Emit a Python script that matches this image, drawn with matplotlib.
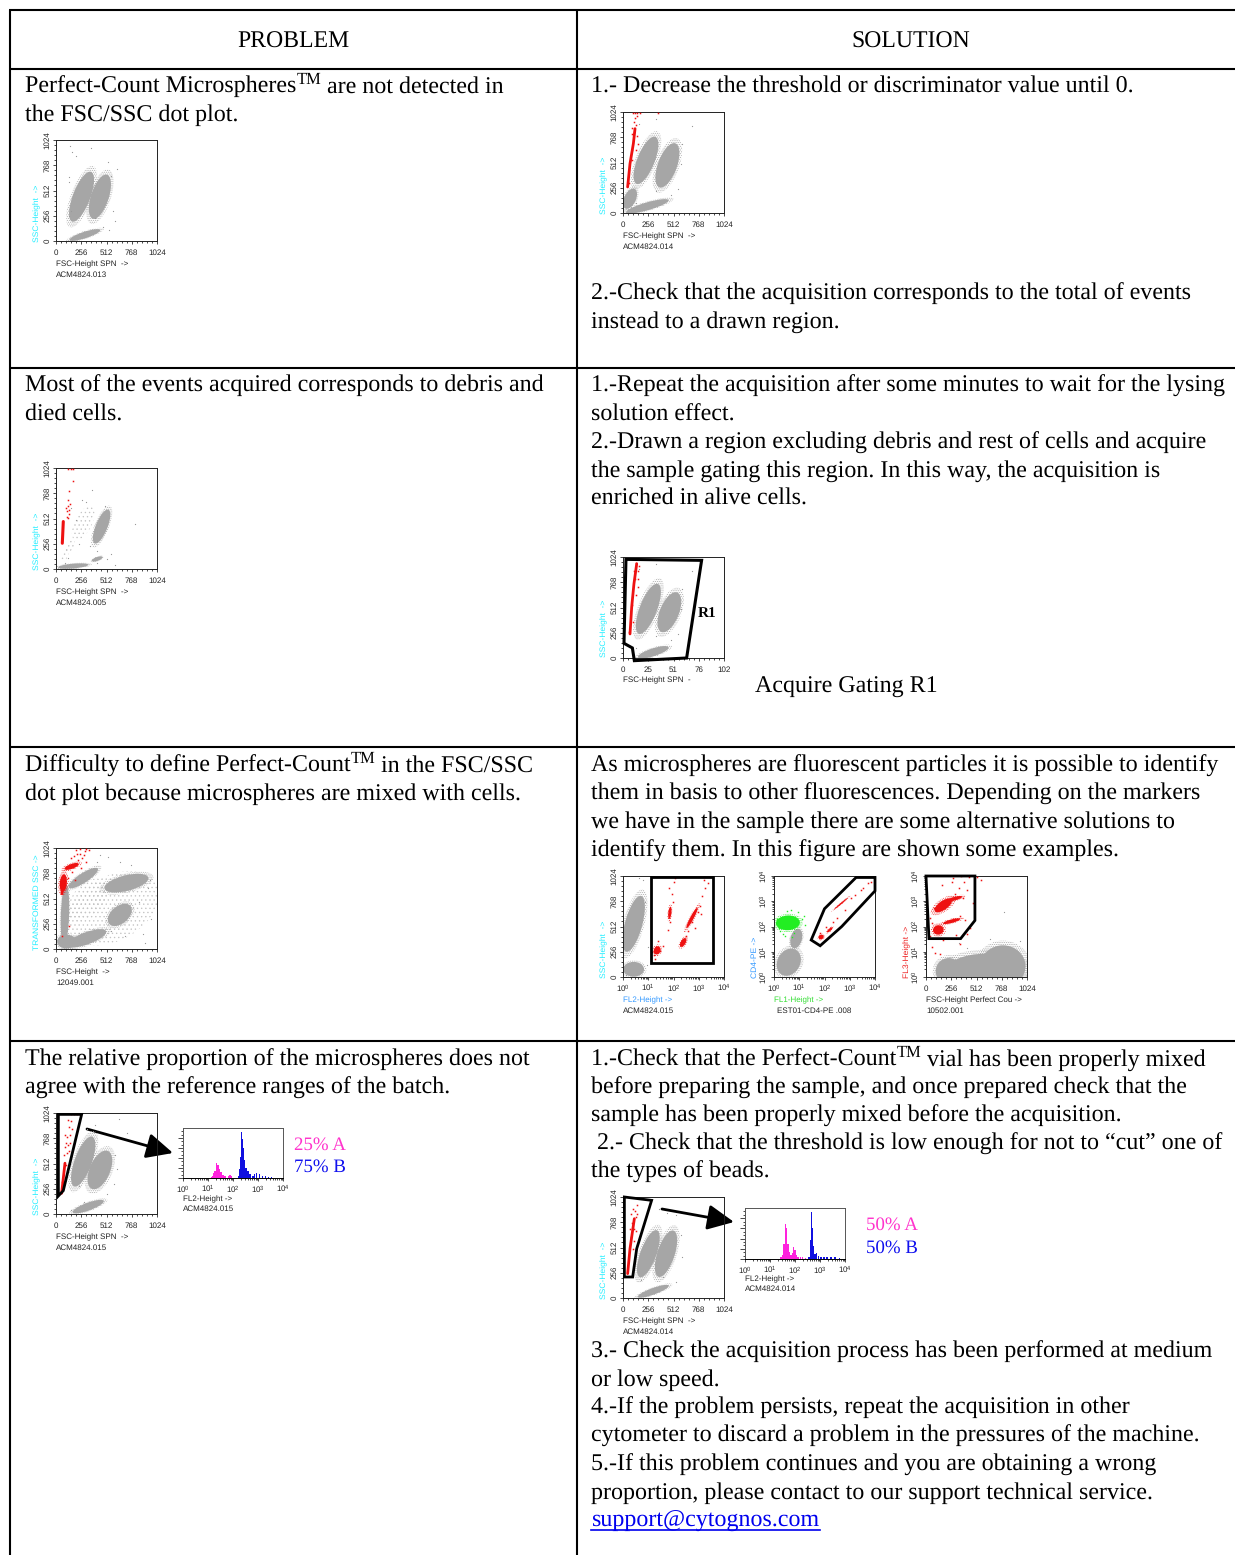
import matplotlib
matplotlib.use('Agg')
import matplotlib.pyplot as plt
from matplotlib.patches import Ellipse, Polygon
import numpy as np

W, H = 1235, 1555
plt.rcParams['font.family'] = 'Liberation Serif'
plt.rcParams['text.hinting'] = 'no_hinting'
plt.rcParams['mathtext.fontset'] = 'custom'
plt.rcParams['mathtext.rm'] = 'Liberation Sans'
plt.rcParams['hatch.linewidth'] = 0.45
SERIF = 17.3
SANS = 5.8
GRAY = '#a6a6a6'
LOOSE = '#c4c4c4'
RED = '#ee1111'
GREEN = '#22ee22'

# table grid, in page pixels
col_x = [10, 577]
row_y = [10, 69, 368, 747, 1041]

problem_lines = [
    (25, 93, 'Perfect-Count Microspheres'), (25, 121, 'the FSC/SSC dot plot.'),
    (25, 392, 'Most of the events acquired corresponds to debris and'), (25, 421, 'died cells.'),
    (25, 772, 'Difficulty to define Perfect-Count'), (25, 800, 'dot plot because microspheres are mixed with cells.'),
    (25, 1066, 'The relative proportion of the microspheres does not'), (25, 1094, 'agree with the reference ranges of the batch.'),
]
solution_lines = [
    (591, 93, '1.- Decrease the threshold or discriminator value until 0.'),
    (591, 300, '2.-Check that the acquisition corresponds to the total of events'),
    (591, 328, 'instead to a drawn region.'),
    (591, 392, '1.-Repeat the acquisition after some minutes to wait for the lysing'),
    (591, 421, 'solution effect.'),
    (591, 449, '2.-Drawn a region excluding debris and rest of cells and acquire'),
    (591, 477, 'the sample gating this region. In this way, the acquisition is'),
    (591, 505, 'enriched in alive cells.'),
    (755, 693, 'Acquire Gating R1'),
    (591, 772, 'As microspheres are fluorescent particles it is possible to identify'),
    (591, 800, 'them in basis to other fluorescences. Depending on the markers'),
    (591, 828, 'we have in the sample there are some alternative solutions to'),
    (591, 857, 'identify them. In this figure are shown some examples.'),
    (591, 1066, '1.-Check that the Perfect-Count'),
    (591, 1094, 'before preparing the sample, and once prepared check that the'),
    (591, 1122, 'sample has been properly mixed before the acquisition.'),
    (597, 1150, '2.- Check that the threshold is low enough for not to \u201ccut\u201d one of'),
    (591, 1178, 'the types of beads.'),
    (591, 1358, '3.- Check the acquisition process has been performed at medium'),
    (591, 1386, 'or low speed.'),
    (591, 1414, '4.-If the problem persists, repeat the acquisition in other'),
    (591, 1442, 'cytometer to discard a problem in the pressures of the machine.'),
    (591, 1471, '5.-If this problem continues and you are obtaining a wrong'),
    (591, 1499, 'proportion, please contact to our support technical service.'),
]
# text that carries on after a TM mark: (tm x, baseline, following x, following text)
tm_marks = [
    (297, 93, 327, 'are not detected in'),
    (351, 772, 381, 'in the FSC/SSC'),
    (897, 1066, 927, 'vial has been properly mixed'),
]

# clouds: channel centre x, centre y, length, width, angle
clouds_a = [(259, 449, 613, 200, 69), (445, 449, 534, 205, 72), (293, 61, 370, 75, 18)]
clouds_b = [(462, 430, 420, 135, 68), (175, 30, 350, 55, 5), (418, 102, 130, 45, 20)]
clouds_c = [(91, 346, 700, 95, 88), (276, 719, 400, 110, 33), (714, 668, 520, 180, 14),
            (647, 346, 320, 200, 40), (310, 108, 480, 140, 20), (108, 75, 220, 160, 0)]
clouds_sol1 = [(233, 534, 584, 200, 68), (450, 483, 540, 220, 70), (247, 68, 510, 90, 16), (71, 145, 250, 135, 65)]
clouds_r1 = [(257, 498, 615, 200, 69), (470, 464, 490, 220, 68), (307, 58, 370, 90, 18)]
clouds_gate1 = [(108, 539, 665, 200, 75), (108, 78, 240, 170, 0)]
clouds_cd4 = [(226, 390, 230, 130, 75), (150, 150, 330, 260, 60)]
clouds_fl3 = [(600, 60, 900, 400, 0), (780, 110, 520, 480, 0), (230, 60, 300, 300, 0)]
clouds_d = [(276, 532, 610, 200, 70), (445, 447, 475, 235, 67), (327, 75, 380, 90, 20)]
clouds_e = [(257, 449, 575, 185, 70), (436, 449, 560, 200, 72), (307, 68, 380, 75, 20)]

# clouds that are only loose events, no dense core
sparse_b = [(276, 464, 380, 170, 63), (141, 227, 150, 70, 60), (91, 142, 150, 60, 70)]
sparse_c = [(580, 414, 1000, 650, 30), (320, 500, 500, 300, 50)]

# loose events around the clouds
dots_a = [(135, 600), (145, 960), (165, 900), (205, 860), (350, 940), (135, 650), (560, 660), (620, 730),
          (530, 800), (580, 300), (600, 200), (130, 250), (150, 300), (480, 140), (540, 110), (400, 230)]
dots_b = [(150, 620), (200, 500), (120, 110), (560, 150), (340, 230), (420, 180), (300, 680), (500, 640),
          (230, 250), (520, 100), (420, 60), (600, 40), (90, 60), (260, 700), (370, 800), (800, 460)]
dots_c = [(530, 930), (650, 880), (760, 850), (700, 130), (950, 700), (930, 620), (840, 480), (560, 180),
          (880, 150), (960, 300), (420, 880), (450, 950), (900, 60)]
dots_sol = [(160, 900), (330, 950), (600, 700), (590, 500), (560, 240), (130, 100), (490, 180), (330, 220), (700, 880)]
dots_d = [(310, 860), (400, 900), (640, 960), (720, 820), (600, 600), (620, 460), (230, 280), (520, 200),
          (280, 120), (590, 300), (150, 40)]
dots_e = [(370, 900), (450, 860), (540, 840), (590, 640), (600, 420), (180, 180), (540, 160), (410, 210)]
dots_gate1 = [(220, 760), (250, 300), (240, 120), (200, 980), (160, 1000), (30, 20)]
dots_fl3 = [(790, 660), (650, 390), (420, 290), (330, 340), (950, 360)]

# gated events: streak polylines and the loose red ones
streak_sol1 = [(47, 264), (71, 500), (105, 703), (122, 855)]
red_sol1 = [(60, 300), (95, 540), (90, 640), (130, 640), (150, 700), (115, 820), (90, 800), (140, 780), (110, 920), (130, 890),
            (95, 860), (125, 960), (145, 980), (100, 1014), (120, 1014), (145, 1014), (170, 1014), (350, 1014)]
streak_b = [(64, 261), (74, 481)]
red_b = [(108, 583), (118, 640), (122, 700), (130, 600), (135, 560), (135, 786), (125, 520), (115, 530), (100, 620),
         (125, 1017), (150, 1017), (170, 1017), (175, 888), (140, 660)]
streak_c = [(60, 560), (70, 680)]
red_c = [(210, 960), (260, 920), (290, 990), (330, 1000), (180, 940), (300, 880), (240, 1010), (160, 780), (120, 720),
         (60, 130), (130, 230), (190, 700), (250, 820), (280, 950), (220, 900), (150, 920), (300, 1016), (240, 960), (200, 1000)]
streak_r1 = [(71, 244), (88, 515), (111, 752), (139, 956)]
red_r1 = [(60, 260), (100, 360), (135, 640), (150, 720), (120, 800), (150, 880), (160, 930), (130, 960), (95, 540), (150, 800), (110, 880)]
streak_d = [(57, 210), (91, 515)]
red_d = [(60, 320), (100, 500), (130, 640), (100, 720), (130, 880), (150, 940), (140, 800), (90, 800), (150, 1017), (180, 1017),
         (120, 950), (110, 620), (125, 700), (80, 600), (145, 720), (95, 680), (115, 780), (210, 1017), (243, 1017), (160, 860)]
streak_e = [(47, 247), (71, 500), (115, 804)]
red_e = [(80, 620), (110, 580), (130, 820), (140, 940), (90, 760), (120, 880), (70, 700), (135, 680), (100, 500), (140, 850), (105, 905), (80, 850), (115, 700)]

red_gate1 = [(315, 220), (330, 300), (290, 250), (350, 370), (320, 180), (380, 260), (405, 310),
             (505, 760), (480, 560), (495, 840), (470, 900), (520, 960), (530, 1000), (460, 480),
             (640, 420), (660, 470), (700, 560), (730, 500), (760, 660), (780, 720), (800, 820), (830, 900), (860, 950), (820, 980), (790, 640)]
blobs_gate1 = [(346, 270, 95, 75, 70), (475, 650, 140, 35, 84), (610, 350, 110, 55, 60), (700, 600, 260, 40, 62)]
red_cd4 = [(470, 450), (530, 510), (600, 560), (640, 600), (720, 680), (780, 800), (820, 830), (880, 880), (950, 950), (980, 960), (900, 900)]
blobs_cd4 = [(478, 405, 60, 50, 30), (565, 478, 80, 28, 42), (680, 745, 200, 16, 40)]
blobs_green = [(141, 549, 270, 165, 3)]
green_cd4 = [(30, 590), (60, 470), (90, 440), (110, 420), (200, 450), (280, 590), (310, 530), (240, 660), (130, 670), (180, 410), (170, 680), (50, 500), (300, 620)]
red_fl3 = [(160, 930), (260, 960), (330, 900), (390, 960), (440, 1010), (350, 1020), (420, 880), (290, 840), (480, 750), (380, 800),
           (60, 550), (40, 420), (80, 700), (60, 300), (140, 230), (170, 380), (450, 500), (420, 440), (400, 580), (340, 620), (40, 600),
           (300, 430), (340, 330), (90, 240), (520, 1010), (560, 980), (270, 1000)]
blobs_fl3 = [(175, 726, 230, 100, 35), (293, 795, 170, 40, 15), (125, 477, 120, 105, 10), (260, 566, 200, 40, 15)]
blobs_c = [(74, 668, 200, 80, 85), (158, 837, 170, 55, 20)]

# histograms: channel and count per bar
hist_a_chan = [290, 305, 318, 330, 345, 360, 375, 390, 410, 430, 465, 480, 495]
hist_a_count = [2, 5, 15, 24, 50, 44, 30, 20, 10, 5, 6, 9, 6]
hist_b_chan = [570, 580, 590, 600, 610, 620, 630, 645, 665, 685, 715, 735, 755, 785, 815, 845, 875, 905]
hist_b_count = [6, 30, 70, 152, 130, 100, 60, 32, 22, 14, 8, 12, 18, 12, 8, 5, 3, 3]
hist_c_chan = [370, 385, 400, 412, 425, 438, 450, 470, 485, 498, 510, 525, 545, 570, 590, 620]
hist_c_count = [6, 14, 50, 113, 100, 50, 22, 12, 20, 40, 28, 14, 8, 8, 5, 3]
hist_d_chan = [655, 668, 680, 690, 700, 715, 730, 750, 780, 810, 840, 880, 920, 970]
hist_d_count = [8, 60, 152, 100, 42, 16, 18, 10, 8, 6, 5, 5, 5, 4]

# gate outlines in channels
gate_r1 = [(30, 1000), (797, 990), (645, 0), (115, -27), (95, 102), (10, 149)]
gate_panel1 = [(280, 1010), (915, 1010), (915, 145), (280, 145)]
gate_cd4 = [(832, 1009), (1024, 1009), (1024, 873), (687, 512), (468, 317), (377, 375), (512, 692)]
gate_fl3 = [(0, 1024), (496, 1024), (496, 573), (351, 389), (30, 389)]
gate_d = [(24, 1010), (260, 1010), (74, 237), (24, 183)]
gate_e = [(14, 1024), (290, 990), (139, 500), (98, 213), (14, 213)]


def sans(x, y, s, color='#222222', **kw):
    page.text(x, y, s, family='Liberation Sans', fontsize=SANS, color=color, **kw)


def add_axes(left, top, w, h):
    return fig.add_axes([left / W, 1 - (top + h) / H, w / W, h / H], facecolor='none')


def style_axis(ax, axis, log_scale, labels):
    major = [0, 256, 512, 768, 1024]
    if log_scale:
        minor = [256 * (d + np.log10(k)) for d in range(4) for k in range(2, 10)]
    else:
        minor = [m + 51.2 * k for m in major[:-1] for k in range(1, 5)]
    target = ax.xaxis if axis == 'x' else ax.yaxis
    target.set_ticks(major)
    target.set_ticks(minor, minor=True)
    target.set_ticklabels(labels)
    if axis == 'x':
        label_pad = 1.2 if log_scale else 3.2
    else:
        label_pad = 1.0
    ax.tick_params(axis=axis, which='major', length=2.4, width=0.5, pad=label_pad,
                   labelsize=SANS, labelcolor='#222222', labelfontfamily='Liberation Sans')
    ax.tick_params(axis=axis, which='minor', length=1.3, width=0.5)
    if axis == 'y':
        for t in target.get_ticklabels():
            t.set_rotation(90)
            t.set_va('center')


LIN = ['0', '256', '512', '768', '1024']
LOG = ['$\\mathregular{10^{%d}}$' % d for d in range(5)]


def speckle(ax, c, color, hatch='.........', grow=1.0, zorder=1):
    ax.add_patch(Ellipse(c[:2], c[2] * grow, c[3] * grow, angle=c[4], fc='none', ec=color, lw=0, hatch=hatch, zorder=zorder))


def core(ax, c, color, scale=0.88, zorder=1.5):
    ax.add_patch(Ellipse(c[:2], c[2] * scale, c[3] * scale, angle=c[4], color=color, lw=0, zorder=zorder))


def dot_plot(left, top, size, clouds, dots=(), streak=None, red=(), gate=None, xlog=False, ylog=False,
             xticks=LIN, yticks=LIN, blobs=(), sparse=(), greens=(), green_dots=(), lw=2.0, streak_lw=2.0):
    ax = add_axes(left, top, size, size)
    ax.set_xlim(0, 1024)
    ax.set_ylim(0, 1024)
    for c in sparse:
        speckle(ax, c, LOOSE, hatch='....')
    for c in clouds:
        speckle(ax, c, GRAY, grow=1.08)
        core(ax, c, GRAY)
    if dots:
        ax.plot(*zip(*dots), ls='', marker='s', ms=0.8, mew=0, color='#999999')
    for b in greens:
        speckle(ax, b, GREEN, grow=1.12, zorder=2.5)
        core(ax, b, GREEN, scale=0.9, zorder=2.6)
    for b in blobs:
        speckle(ax, b, RED, grow=1.3, zorder=3)
        core(ax, b, RED, scale=0.9, zorder=3)
    if green_dots:
        ax.plot(*zip(*green_dots), ls='', marker='s', ms=1.0, mew=0, color=GREEN, zorder=3)
    if streak:
        ax.plot(*zip(*streak), color=RED, lw=streak_lw, solid_capstyle='round', zorder=3)
    if red:
        ax.plot(*zip(*red), ls='', marker='s', ms=1.1, mew=0, color=RED, zorder=3)
    if gate:
        ax.add_patch(Polygon(gate, closed=True, fill=False, ec='black', lw=lw, joinstyle='miter', zorder=4, clip_on=False))
    style_axis(ax, 'x', xlog, xticks)
    style_axis(ax, 'y', ylog, yticks)
    for s in ax.spines.values():
        s.set_linewidth(0.7)
        s.set_color('#222222')
    return ax


def histogram(left, top, w, h, chan_a, count_a, chan_b, count_b, col_a='#ff22dd', col_b='#1010e0'):
    ax = add_axes(left, top, w, h)
    ax.set_xlim(0, 1024)
    ax.set_ylim(0, 165)
    ax.bar(chan_a, count_a, width=15, color=col_a, lw=0)
    ax.bar(chan_b, count_b, width=14, color=col_b, lw=0)
    style_axis(ax, 'x', True, LOG)
    ax.yaxis.set_ticks(np.arange(0, 165, 33))
    ax.yaxis.set_ticks(np.arange(0, 165, 11), minor=True)
    ax.yaxis.set_ticklabels([])
    ax.tick_params(axis='y', which='major', length=3.4, width=0.5)
    ax.tick_params(axis='y', which='minor', length=1.8, width=0.5)
    ax.spines['bottom'].set_linewidth(0.7)
    for name in ['top', 'right', 'left']:
        ax.spines[name].set_linewidth(0.7)
        ax.spines[name].set_color('#555555')
    return ax


def captions(left, top, size, ylabel, ycolor, xlabel, fname, xcolor='#222222', fname_x=None):
    page.text(left - 19, top + size + 1, ylabel, rotation=90, family='Liberation Sans', fontsize=6.1,
              color=ycolor, ha='center', va='bottom')
    sans(left, top + size + 25, xlabel, color=xcolor)
    sans(fname_x if fname_x is not None else left, top + size + 36, fname)


fig = plt.figure(figsize=(W / 100, H / 100), dpi=100, facecolor='white')
page = fig.add_axes([0, 0, 1, 1])
page.set_xlim(0, W)
page.set_ylim(H, 0)
page.axis('off')

for y in row_y:
    page.plot([col_x[0] - 1, W], [y, y], color='black', lw=1.5, solid_capstyle='butt')
for x in col_x:
    page.plot([x, x], [row_y[0], H], color='black', lw=1.5, solid_capstyle='butt')

page.text(293, 48, 'PROBLEM', fontsize=17.1, ha='center', va='baseline')
page.text(911, 48, 'SOLUTION', fontsize=17.1, ha='center', va='baseline')

for x, y, s in problem_lines + solution_lines:
    page.text(x, y - 0.5, s, fontsize=SERIF, va='baseline')
for x, y, x2, s in tm_marks:
    page.text(x, y - 9, 'TM', fontsize=11.9, va='baseline')
    page.text(x2, y - 0.5, s, fontsize=SERIF, va='baseline')

page.text(591, 1527, 'support@cytognos.com', fontsize=SERIF, color='#0000ee', va='baseline')
page.plot([591, 820], [1530, 1530], color='#0000ee', lw=1.2)
page.text(698, 617, 'R1', fontsize=11, fontweight='bold', va='baseline')
for x, y, s, c in [(294, 1150, '25% A', '#ff33cc'), (294, 1172, '75% B', '#1111ee'),
                   (866, 1230, '50% A', '#ff33cc'), (866, 1253, '50% B', '#1111ee')]:
    page.text(x, y, s, fontsize=13.6, color=c, va='baseline')

CY = '#22eeff'

# row 1
dot_plot(56, 140, 101, clouds_a, dots_a)
captions(56, 140, 101, 'SSC-Height  ->', CY, 'FSC-Height SPN  ->', 'ACM4824.013')
dot_plot(623, 112, 101, clouds_sol1, dots_sol, streak_sol1, red_sol1)
captions(623, 112, 101, 'SSC-Height  ->', CY, 'FSC-Height SPN  ->', 'ACM4824.014')

# row 2
dot_plot(56, 468, 101, clouds_b, dots_b, streak_b, red_b, sparse=sparse_b, streak_lw=2.2)
captions(56, 468, 101, 'SSC-Height  ->', CY, 'FSC-Height SPN  ->', 'ACM4824.005')
dot_plot(623, 557, 101, clouds_r1, dots_sol, streak_r1, red_r1, gate_r1,
         xticks=['0', '25', '51', '76', '102'], lw=2.2)
page.text(604, 657, 'SSC-Height  ->', rotation=90, family='Liberation Sans', fontsize=6.1, color=CY, ha='center', va='bottom')
sans(623, 682, 'FSC-Height SPN  -')

# row 3
dot_plot(56, 848, 101, clouds_c, dots_c, streak_c, red_c, sparse=sparse_c, blobs=blobs_c)
captions(56, 848, 101, 'TRANSFORMED SSC ->', CY, 'FSC-Height  ->', '12049.001')
dot_plot(623, 876, 101, clouds_gate1, dots_gate1, None, red_gate1, gate_panel1, xlog=True, xticks=LOG, blobs=blobs_gate1)
captions(623, 876, 101, 'SSC-Height  ->', CY, 'FL2-Height ->', 'ACM4824.015', xcolor='#3399ff')
dot_plot(774, 876, 101, clouds_cd4, (), None, red_cd4, gate_cd4, xlog=True, ylog=True, xticks=LOG, yticks=LOG,
         blobs=blobs_cd4, greens=blobs_green, green_dots=green_cd4)
captions(774, 876, 101, 'CD4-PE ->', '#3399ff', 'FL1-Height ->', 'EST01-CD4-PE .008', xcolor='#33dd33', fname_x=777)
dot_plot(926, 876, 101, clouds_fl3, dots_fl3, None, red_fl3, gate_fl3, ylog=True, yticks=LOG, blobs=blobs_fl3)
captions(926, 876, 101, 'FL3-Height ->', '#ee2222', 'FSC-Height Perfect Cou ->', '10502.001')

# row 4
dot_plot(56, 1113, 101, clouds_d, dots_d, streak_d, red_d, gate_d)
captions(56, 1113, 101, 'SSC-Height  ->', CY, 'FSC-Height SPN  ->', 'ACM4824.015')
histogram(183, 1128, 100, 50, hist_a_chan, hist_a_count, hist_b_chan, hist_b_count)
sans(183, 1201, 'FL2-Height ->')
sans(183, 1211, 'ACM4824.015')
arrow = dict(arrowstyle='-|>,head_length=1.15,head_width=0.55', color='black', lw=2, shrinkA=0, shrinkB=0, mutation_scale=14)
page.annotate('', xy=(173, 1153), xytext=(87, 1129), arrowprops=arrow)

dot_plot(623, 1197, 101, clouds_e, dots_e, streak_e, red_e, gate_e)
captions(623, 1197, 101, 'SSC-Height  ->', CY, 'FSC-Height SPN  ->', 'ACM4824.014')
histogram(745, 1208, 100, 51, hist_c_chan, hist_c_count, hist_d_chan, hist_d_count)
sans(745, 1281, 'FL2-Height ->')
sans(745, 1291, 'ACM4824.014')
page.annotate('', xy=(734, 1222), xytext=(662, 1209), arrowprops=arrow)

fig.savefig('out.png', dpi=100)
